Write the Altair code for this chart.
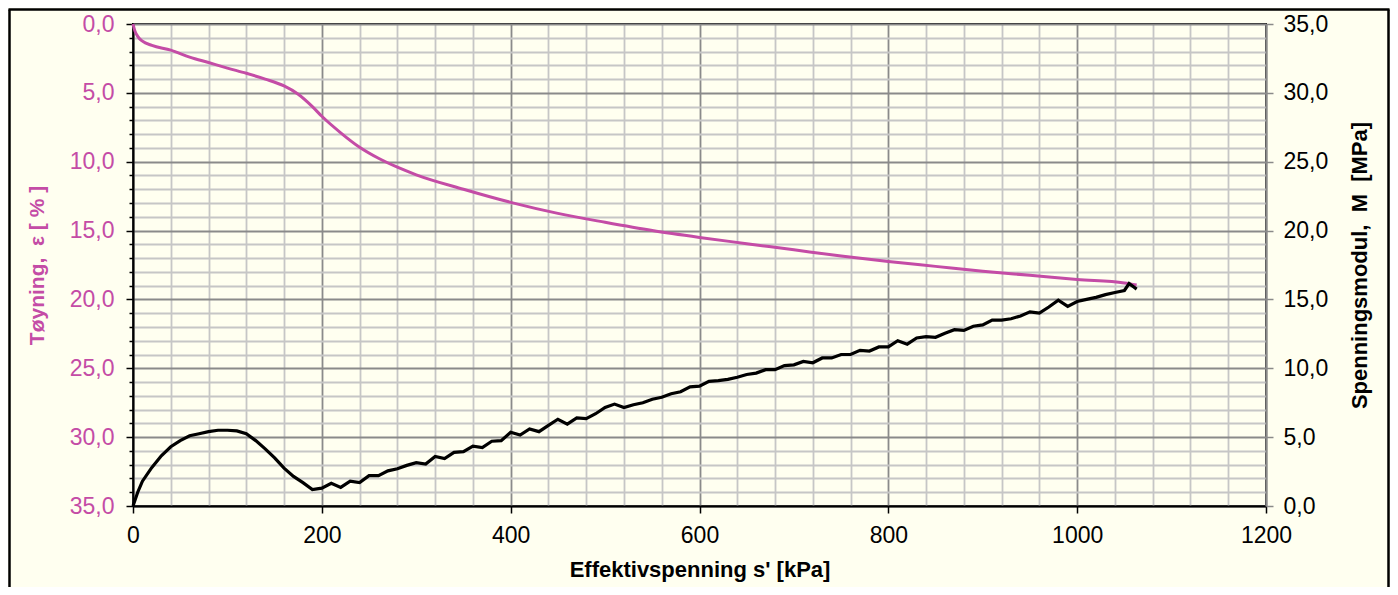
import altair as alt
import pandas as pd

# ---- data ----
# Strain curve (left axis, reversed)
s_strain = [0, 2, 5, 10, 20, 40, 60, 80, 100, 120, 140, 160, 175, 190, 200, 220, 240, 260, 280, 300,
            350, 400, 450, 500, 550, 600, 650, 700, 750, 800, 850, 900, 950, 1000, 1050, 1063]
eps = [0.0, 0.5, 0.9, 1.25, 1.55, 1.9, 2.4, 2.8, 3.2, 3.58, 4.0, 4.5, 5.1, 6.0, 6.7, 7.9, 8.95, 9.75,
       10.4, 10.95, 12.0, 12.95, 13.75, 14.4, 15.0, 15.5, 15.95, 16.4, 16.85, 17.25, 17.6, 17.95,
       18.25, 18.55, 18.8, 18.95]

# Constrained modulus curve (right axis)
s_mod = [0, 5, 10, 20, 30, 40, 50, 60, 70, 80, 90, 100, 110, 120, 130, 140, 150, 160, 170, 180, 190,
         200, 210, 220, 230, 240, 250, 260, 270, 280, 290, 300, 310, 320, 330, 340, 350, 360, 370, 380,
         390, 400, 410, 420, 430, 440, 450, 460, 470, 480, 490, 500, 510, 520, 530, 540, 550, 560, 570,
         580, 590, 600, 610, 620, 630, 640, 650, 660, 670, 680, 690, 700, 710, 720, 730, 740, 750, 760,
         770, 780, 790, 800, 810, 820, 830, 840, 850, 860, 870, 880, 890, 900, 910, 920, 930, 940, 950,
         960, 970, 980, 990, 1000, 1010, 1020, 1030, 1040, 1050, 1055, 1060, 1063]
mod = [0.0, 1.0, 1.8, 2.8, 3.65, 4.3, 4.75, 5.1, 5.25, 5.4, 5.5, 5.5, 5.45, 5.25, 4.75, 4.15, 3.5, 2.75,
       2.15, 1.7, 1.2,
       1.30, 1.65, 1.35, 1.80, 1.70, 2.20, 2.20, 2.55, 2.70, 2.95, 3.15, 3.05, 3.60, 3.45, 3.90, 3.95,
       4.35, 4.25, 4.70, 4.75, 5.35, 5.15, 5.60, 5.40, 5.85, 6.30, 5.95, 6.40, 6.35, 6.70, 7.15, 7.40,
       7.15, 7.35, 7.50, 7.75, 7.90, 8.15, 8.30, 8.65, 8.70, 9.05, 9.10, 9.20, 9.35, 9.55, 9.65, 9.90,
       9.90, 10.20, 10.25, 10.50, 10.40, 10.75, 10.75, 11.00, 11.00, 11.30, 11.25, 11.55, 11.55, 12.00,
       11.75, 12.20, 12.30, 12.25, 12.55, 12.80, 12.75, 13.05, 13.15, 13.50, 13.50, 13.60, 13.80, 14.10,
       14.00, 14.45, 14.95, 14.50, 14.85, 15.00, 15.15, 15.35, 15.50, 15.65, 16.15, 15.90, 15.75]

x_ticks = list(range(0, 1201, 40))
left_ticks = list(range(0, 36))
right_ticks = list(range(0, 36, 5))

# ---- styling ----
PINK = "#C44CA6"
FONT = "Liberation Sans"
BG = "#FFFFF0"
W, H = 1133, 482
PAD = {"left": 125, "top": 16, "right": 124, "bottom": 81}
NB = "\u00a0"
LBL = 23
TTL = 22

df1 = pd.DataFrame({"s": s_strain, "eps": eps})
df2 = pd.DataFrame({"s": s_mod, "M": mod})

xscale = alt.Scale(domain=[0, 1200], nice=False, zero=False)

xaxis = alt.Axis(
    values=x_ticks,
    labelExpr="datum.value % 200 === 0 ? '' + datum.value : ''",
    labelOverlap=False,
    labelSeparation=0,
    labelFlush=False,
    labelFont=FONT,
    labelFontSize=LBL,
    title="Effektivspenning s' [kPa]",
    titleFont=FONT,
    titleFontSize=TTL,
    titleFontWeight="bold",
    grid=True,
    gridColor={"condition": {"test": "datum.value % 200 === 0", "value": "#8a8a8a"}, "value": "#c6c6c6"},
    gridWidth=1.8,
    tickSize={"condition": {"test": "datum.value % 200 === 0", "value": 7}, "value": 0},
    tickColor="black",
    tickWidth=1.5,
    domainColor="black",
    domainWidth=2,
    labelColor="black",
    labelPadding=11,
    titlePadding=12,
    titleColor="black",
)

leftaxis = alt.Axis(
    values=left_ticks,
    labelExpr="datum.value % 5 === 0 ? replace(format(datum.value, '.1f'), '.', ',') : ''",
    labelOverlap=False,
    labelSeparation=0,
    labelFlush=False,
    labelFont=FONT,
    labelFontSize=LBL,
    title=f"Tøyning,{NB}{NB}ε{NB}[{NB}%{NB}]",
    titleFont=FONT,
    titleFontSize=21,
    titleFontWeight="bold",
    orient="left",
    grid=True,
    gridColor={"condition": {"test": "datum.value % 5 === 0", "value": "#8a8a8a"}, "value": "#c6c6c6"},
    gridWidth=1.8,
    tickSize={"condition": {"test": "datum.value % 5 === 0", "value": 7}, "value": 4},
    tickColor="black",
    tickWidth=1.5,
    domainColor="black",
    domainWidth=2,
    labelColor=PINK,
    labelPadding=12,
    titleColor=PINK,
    titlePadding=22,
)

rightaxis = alt.Axis(
    values=right_ticks,
    labelExpr="replace(format(datum.value, '.1f'), '.', ',')",
    labelOverlap=False,
    labelFlush=False,
    labelFont=FONT,
    labelFontSize=LBL,
    title=f"Spenningsmodul,{NB}{NB}M{NB}{NB}[MPa]",
    titleFont=FONT,
    titleFontSize=TTL,
    titleFontWeight="bold",
    orient="right",
    grid=False,
    tickSize=7,
    tickColor="#8a8a8a",
    tickWidth=1.5,
    domainColor="#8a8a8a",
    domainWidth=2,
    labelColor="black",
    labelPadding=10,
    titleColor="black",
    titleAngle=270,
    titleBaseline="top",
    titlePadding=22,
)

pink_line = alt.Chart(df1).mark_line(color=PINK, strokeWidth=3, interpolate="monotone").encode(
    x=alt.X("s:Q", scale=xscale, axis=xaxis),
    y=alt.Y("eps:Q", scale=alt.Scale(domain=[0, 35], reverse=True, nice=False, zero=False), axis=leftaxis),
)

black_line = alt.Chart(df2).mark_line(color="black", strokeWidth=3.2, strokeJoin="miter").encode(
    x=alt.X("s:Q", scale=xscale, axis=xaxis),
    y=alt.Y("M:Q", scale=alt.Scale(domain=[0, 35], nice=False), axis=rightaxis),
)

# outer frame of the figure (left, top, right)
frame_df = pd.DataFrame({"k": [0]})
frame_left = alt.Chart(frame_df).mark_rule(color="black", strokeWidth=2.5).encode(
    x=alt.value(-PAD["left"] + 1.5), y=alt.value(-PAD["top"] + 1.5), y2=alt.value(H + PAD["bottom"] + 5)
)
frame_top = alt.Chart(frame_df).mark_rule(color="black", strokeWidth=2.5).encode(
    x=alt.value(-PAD["left"] + 0.5), x2=alt.value(W + PAD["right"] - 0.5), y=alt.value(-PAD["top"] + 1.5)
)
frame_right = alt.Chart(frame_df).mark_rule(color="black", strokeWidth=2.5).encode(
    x=alt.value(W + PAD["right"] - 1.5), y=alt.value(-PAD["top"] + 1.5), y2=alt.value(H + PAD["bottom"] + 5)
)

chart = (
    alt.layer(pink_line, black_line, frame_left, frame_top, frame_right)
    .resolve_scale(y="independent")
    .properties(
        width=W,
        height=H,
        padding=PAD,
        autosize=alt.AutoSizeParams(type="none"),
        background=BG,
    )
    .configure_view(stroke="black", strokeWidth=2, fill=BG)
)

chart.save("out.html", embed_options={"renderer": "svg", "actions": False})
